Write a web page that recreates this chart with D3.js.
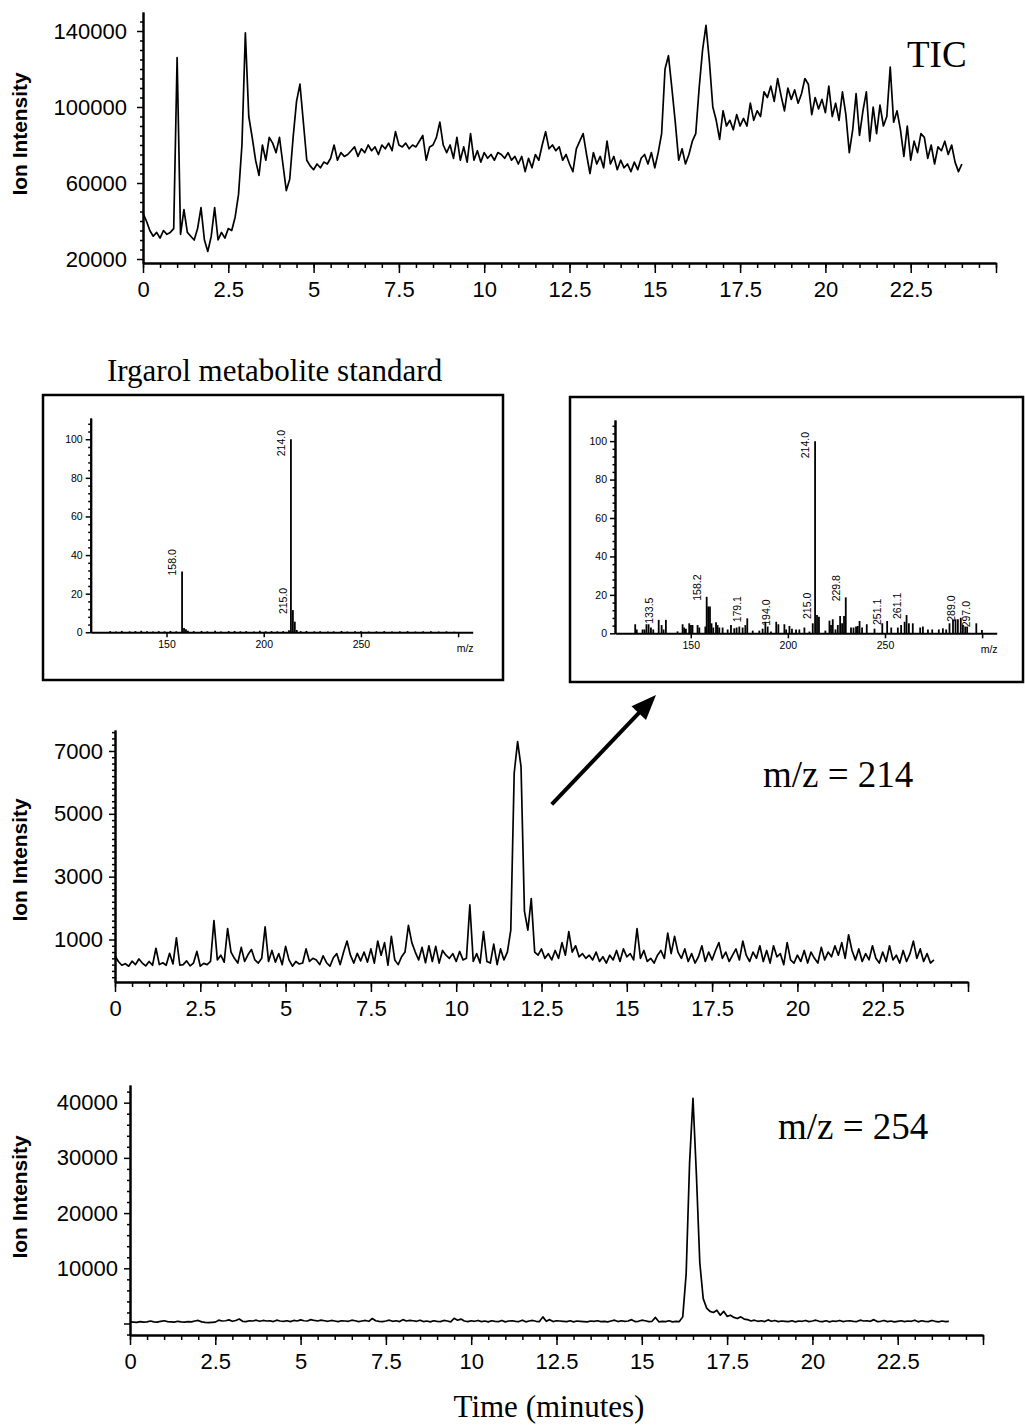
<!DOCTYPE html>
<html>
<head>
<meta charset="utf-8">
<script src="https://cdn.jsdelivr.net/npm/d3@7"></script>
<style>
body { margin: 0; background: #fff; }
svg { display: block; }
</style>
</head>
<body>
<svg id="fig" width="1025" height="1426"></svg>
<script>
// scans are 0.1 min apart, starting at t = 0
const timeStep = 0.1;
const timeTicks = [0, 2.5, 5, 7.5, 10, 12.5, 15, 17.5, 20, 22.5];

// TIC, ion counts
const ticValues = [
  44000, 40000, 35000, 32000, 34000, 31000, 35000, 33000, 34000, 36000,
  126000, 33000, 46000, 34000, 32000, 30000, 36000, 47000, 30000, 24000,
  32000, 47000, 30000, 34000, 31000, 36000, 35000, 42000, 54000, 80000,
  139000, 95000, 84000, 72000, 64000, 80000, 72000, 84000, 81000, 76000,
  84000, 70000, 56000, 62000, 84000, 103000, 112000, 92000, 72000, 69000,
  67000, 70000, 68000, 71000, 70000, 73000, 80000, 72000, 76000, 74000,
  75000, 77000, 79000, 74000, 78000, 76000, 80000, 77000, 79000, 75000,
  80000, 78000, 81000, 77000, 87000, 80000, 79000, 81000, 78000, 80000,
  79000, 82000, 85000, 72000, 79000, 80000, 84000, 92000, 80000, 76000,
  80000, 73000, 84000, 72000, 79000, 71000, 86000, 72000, 77000, 71000,
  76000, 73000, 75000, 72000, 76000, 75000, 73000, 76000, 72000, 74000,
  70000, 74000, 66000, 73000, 68000, 75000, 72000, 80000, 87000, 78000,
  80000, 77000, 79000, 72000, 75000, 70000, 66000, 78000, 82000, 86000,
  75000, 65000, 76000, 70000, 74000, 68000, 82000, 70000, 74000, 67000,
  72000, 68000, 70000, 66000, 71000, 67000, 73000, 75000, 70000, 76000,
  68000, 76000, 86000, 120000, 127000, 110000, 92000, 72000, 78000, 70000,
  75000, 82000, 86000, 110000, 130000, 143000, 124000, 100000, 93000, 83000,
  98000, 90000, 93000, 88000, 96000, 90000, 94000, 90000, 102000, 93000,
  98000, 95000, 108000, 105000, 111000, 103000, 115000, 106000, 98000, 110000,
  104000, 109000, 102000, 107000, 115000, 112000, 96000, 105000, 99000, 104000,
  97000, 111000, 95000, 102000, 93000, 108000, 96000, 76000, 88000, 107000,
  85000, 98000, 108000, 82000, 100000, 86000, 101000, 90000, 95000, 121000,
  92000, 98000, 88000, 74000, 90000, 72000, 82000, 76000, 86000, 84000,
  73000, 80000, 70000, 79000, 77000, 82000, 75000, 80000, 71000, 66000,
  70000
];

// extracted ion m/z 214
const mz214Values = [
  480, 300, 180, 230, 150, 310, 200, 380, 250, 160,
  300, 180, 720, 200, 260, 180, 560, 220, 1050, 180,
  200, 320, 160, 250, 620, 150, 240, 200, 300, 1600,
  350, 500, 280, 1350, 600, 400, 250, 750, 300, 520,
  680, 350, 250, 400, 1400, 300, 650, 280, 550, 200,
  780, 350, 150, 300, 220, 250, 700, 300, 400, 350,
  200, 480, 260, 150, 420, 550, 200, 600, 950, 500,
  250, 560, 320, 600, 280, 700, 250, 950, 500, 900,
  180, 1100, 350, 200, 450, 600, 1450, 900, 600, 350,
  750, 260, 800, 300, 780, 250, 650, 500, 400, 550,
  300, 620, 350, 400, 2100, 300, 550, 250, 1250, 300,
  250, 850, 200, 700, 350, 600, 1300, 6300, 7300, 6500,
  1900, 1300, 2300, 600, 500, 700, 400, 550, 350, 650,
  400, 900, 500, 1250, 600, 800, 450, 550, 400, 500,
  350, 600, 300, 450, 250, 500, 350, 650, 300, 700,
  450, 550, 350, 1350, 400, 650, 300, 400, 250, 500,
  650, 400, 1200, 550, 1100, 600, 400, 700, 300, 550,
  250, 450, 800, 300, 600, 350, 650, 900, 400, 600,
  300, 500, 700, 350, 950, 500, 300, 600, 400, 800,
  300, 650, 250, 800, 450, 550, 200, 900, 350, 250,
  500, 300, 650, 250, 600, 400, 250, 750, 350, 600,
  450, 800, 500, 900, 400, 1150, 650, 350, 700, 300,
  550, 350, 800, 400, 250, 600, 300, 800, 350, 500,
  250, 650, 300, 550, 950, 400, 700, 300, 550, 250,
  350
];

// extracted ion m/z 254
const mz254Values = [
  300, 250, 200, 350, 250, 300, 450, 300, 250, 400, 500, 350, 300, 250, 400, 300, 250, 350, 300, 450, 550, 300, 200, 150, 200, 250,
  600, 450, 500, 650, 400, 550, 800, 400, 350, 500, 450, 600, 400, 550, 450, 500, 350, 600, 450, 400, 500, 350, 550, 450, 650,
  500, 450, 700, 550, 450, 600, 500, 400, 550, 450, 350, 500, 450, 400, 600, 500, 350, 450, 550, 400, 900, 500, 400, 350, 450,
  600, 400, 500, 350, 700, 450, 550, 500, 400, 600, 350, 450, 300, 500, 400, 350, 550, 450, 300, 950, 600, 800, 450, 350, 500,
  400, 550, 350, 450, 300, 500, 400, 350, 550, 300, 450, 500, 400, 350, 600, 300, 450, 550, 400, 350, 1200, 400, 700, 350, 500,
  450, 400, 350, 500, 300, 450, 400, 350, 300, 450, 400, 500, 350, 400, 300, 450, 600, 350, 500, 400, 450, 700, 350, 400, 600,
  500, 350, 400, 1100, 300, 400, 350, 500, 300, 400,
  350, 1200, 9000, 29000, 40800, 27000, 11000, 4500, 2800, 2200,
  2000, 2400, 1500, 2200, 1300, 1500, 1100, 900, 1200, 800,
  700, 450, 600, 400, 500, 350, 650, 400, 550, 350, 450, 400, 350, 500, 300, 450, 400, 550, 350, 450,
  600, 400, 350, 500, 300, 450, 400, 550, 350, 450, 500, 400, 350, 600, 450, 500, 400, 700, 350, 400, 550, 350, 450, 300, 400,
  500, 350, 450, 400, 600, 300, 500, 400, 350, 550, 400, 300, 450, 350, 400
];

const ticYTicks = [20000, 60000, 100000, 140000];
const mz214YTicks = [1000, 3000, 5000, 7000];
const mz254YTicks = [0, 10000, 20000, 30000, 40000];

// mass spectra (relative abundance %)
const mzTicks = [150, 200, 250, 300];
const pctTicks = [0, 20, 40, 60, 80, 100];

const stdMz = [121, 124, 127, 131, 134, 137, 140, 143, 146, 149, 152, 155, 158, 159, 160, 161, 164, 168, 171, 175,
  178, 182, 185, 188, 191, 195, 198, 201, 204, 207, 210, 213, 214, 215, 216, 217, 219, 222, 226, 229,
  233, 236, 240, 243, 247, 250, 254, 258, 262, 266, 270, 274, 278, 282, 286, 290, 294, 298];
const stdInt = [0.6, 0.4, 0.7, 0.5, 0.6, 0.8, 0.5, 0.4, 0.6, 0.5, 0.7, 0.5, 31.5, 2.2, 1.6, 0.8, 0.6, 0.7, 0.5, 0.8,
  0.4, 0.6, 0.7, 0.5, 0.6, 0.4, 0.8, 0.5, 0.6, 0.5, 0.6, 1.0, 100, 11.5, 5.5, 1.2, 0.6, 0.7, 0.5, 0.6,
  0.4, 0.5, 0.7, 0.4, 0.5, 0.6, 0.4, 0.5, 0.6, 0.4, 0.5, 0.6, 0.4, 0.5, 0.6, 0.4, 0.5, 0.3];
const stdLabels = ["158.0", "214.0", "215.0"];

const sampleMz = [121.4, 122.2, 125.2, 126.2, 127.2, 128.3, 129.5, 130.7, 133.5, 135.0, 136.0, 137.2, 143.2, 145.8, 146.6,
  147.5, 149.2, 150.1, 150.9, 153.5, 154.4, 157.5, 158.2, 159.0, 159.9, 160.7, 161.6, 163.0, 163.8, 164.7,
  166.4, 169.0, 170.7, 172.4, 173.6, 175.0, 176.7, 178.1, 179.1, 181.9, 185.3, 187.0, 188.4, 189.6, 191.3,
  194.0, 195.1, 198.2, 199.1, 200.8, 202.1, 204.2, 205.9, 208.5, 211.1, 212.8, 214.0, 215.0, 216.0, 219.3,
  221.4, 222.2, 223.1, 224.5, 225.7, 226.9, 227.9, 228.9, 229.8, 232.5, 233.8, 235.1, 236.0, 236.9, 238.2,
  240.6, 244.6, 248.6, 251.1, 253.2, 256.6, 258.3, 260.1, 261.1, 262.3, 264.3, 268.1, 269.5, 272.1, 274.3,
  277.7, 279.8, 281.5, 283.2, 285.0, 286.3, 287.5, 289.0, 290.1, 291.3, 292.3, 297.0, 299.9];
const sampleInt = [4.7, 2.0, 2.0, 2.0, 4.7, 4.7, 3.0, 2.0, 7.0, 4.3, 2.0, 7.0, 1.0, 4.7, 3.0,
  2.4, 5.2, 4.3, 4.3, 4.3, 3.0, 3.5, 19.0, 14.0, 14.0, 5.2, 3.0, 5.7, 4.3, 3.0,
  3.0, 2.0, 4.3, 2.6, 3.0, 3.5, 3.0, 4.3, 7.8, 1.4, 1.4, 2.4, 6.0, 3.5, 0.9,
  6.0, 4.7, 4.7, 2.0, 3.8, 2.4, 2.0, 2.0, 3.0, 0.9, 5.2, 100, 9.5, 8.6, 1.4,
  6.6, 4.3, 7.3, 2.0, 4.3, 9.0, 5.2, 9.0, 18.7, 3.0, 3.0, 3.5, 3.8, 6.4, 3.0,
  4.7, 2.4, 5.2, 6.4, 3.0, 3.0, 4.3, 6.0, 9.5, 5.2, 5.2, 3.0, 3.5, 2.0, 2.0,
  2.0, 2.6, 2.0, 5.2, 7.0, 7.3, 7.3, 8.1, 4.3, 3.5, 3.5, 5.2, 1.7];
const sampleLabels = ["133.5", "158.2", "179.1", "194.0", "214.0", "215.0", "229.8", "251.1", "261.1", "289.0", "297.0"];

const SANS = "'Liberation Sans', Arial, Helvetica, sans-serif";
const SERIF = "'Liberation Serif', 'Times New Roman', Times, serif";

let svg = d3.select("#fig");
svg.append("rect").attr("width", 1025).attr("height", 1426).attr("fill", "#fff");

let styleAxis = function(g, fontSize) {
  g.attr("font-family", SANS).attr("font-size", fontSize);
  g.selectAll("path.domain").attr("stroke", "#000").attr("stroke-width", 2);
  g.selectAll(".tick line").attr("stroke", "#000").attr("stroke-width", 1.5);
  g.selectAll(".tick text").attr("fill", "#000");
};

// ---- chromatograms ----
let panels = [
  { values: ticValues, yDomain: [17900, 150000], yTicks: ticYTicks, yMinor: 5000,
    left: 143, right: 996, top: 12, bottom: 263, yPad: 10, yLabelY: 134,
    label: "TIC", labelX: 907, labelY: 67 },
  { values: mz214Values, yDomain: [-353, 7668], yTicks: mz214YTicks, yMinor: 200,
    left: 115, right: 968, top: 730, bottom: 982, yPad: 6, yLabelY: 860,
    label: "m/z = 214", labelX: 763, labelY: 787 },
  { values: mz254Values, yDomain: [-2083, 43200], yTicks: mz254YTicks, yMinor: 2000,
    left: 130, right: 983, top: 1085, bottom: 1335, yPad: 6, yLabelY: 1197,
    label: "m/z = 254", labelX: 778, labelY: 1139 }
];

panels.forEach(p => {
  p.x = d3.scaleLinear().domain([0, 25]).range([p.left, p.right]);
  p.y = d3.scaleLinear().domain(p.yDomain).range([p.bottom, p.top]);
  let g = svg.append("g");

  let minorX = d3.range(0, 25.001, 0.5);
  let xMinor = g.append("g").attr("transform", "translate(0," + p.bottom + ")")
    .call(d3.axisBottom(p.x).tickValues(minorX).tickSize(5).tickSizeOuter(0).tickFormat(""));
  styleAxis(xMinor, 22);
  let xMajor = g.append("g").attr("transform", "translate(0," + p.bottom + ")")
    .call(d3.axisBottom(p.x).tickValues(timeTicks.concat([25])).tickSize(10).tickPadding(8)
      .tickSizeOuter(0).tickFormat(d => d === 25 ? "" : d));
  styleAxis(xMajor, 22);

  let minorY = d3.range(Math.ceil(p.yDomain[0] / p.yMinor) * p.yMinor, p.yDomain[1], p.yMinor)
    .filter(v => !p.yTicks.includes(v));
  let yMinor = g.append("g").attr("transform", "translate(" + p.left + ",0)")
    .call(d3.axisLeft(p.y).tickValues(minorY).tickSize(3).tickSizeOuter(0).tickFormat(""));
  styleAxis(yMinor, 22);
  let yMajor = g.append("g").attr("transform", "translate(" + p.left + ",0)")
    .call(d3.axisLeft(p.y).tickValues(p.yTicks).tickSize(6).tickPadding(p.yPad)
      .tickSizeOuter(0).tickFormat(d => d === 0 ? "" : d));
  styleAxis(yMajor, 22);

  let line = d3.line()
    .x((d, i) => p.x(i * timeStep))
    .y(d => p.y(d));
  g.append("path").datum(p.values)
    .attr("d", line)
    .attr("fill", "none")
    .attr("stroke", "#000")
    .attr("stroke-width", 1.7)
    .attr("stroke-linejoin", "round");

  g.append("text")
    .attr("transform", "translate(20," + p.yLabelY + ") rotate(-90)")
    .attr("dy", "0.35em")
    .attr("text-anchor", "middle")
    .attr("font-family", SANS)
    .attr("font-weight", "bold")
    .attr("font-size", 20)
    .attr("textLength", 123)
    .attr("lengthAdjust", "spacingAndGlyphs")
    .text("Ion Intensity");

  g.append("text")
    .attr("x", p.labelX).attr("y", p.labelY)
    .attr("font-family", SERIF).attr("font-size", 37)
    .text(p.label);
});

svg.append("text")
  .attr("x", 549).attr("y", 1417)
  .attr("text-anchor", "middle")
  .attr("font-family", SERIF).attr("font-size", 31)
  .text("Time (minutes)");

// ---- mass spectra insets ----
let insets = [
  { mz: stdMz, intensity: stdInt, labels: stdLabels, box: [43, 395, 460, 285],
    left: 90.7, right: 472.7, top: 418, bottom: 632.3 },
  { mz: sampleMz, intensity: sampleInt, labels: sampleLabels, box: [570, 397, 453, 285],
    left: 615, right: 996.7, top: 420, bottom: 633.3 }
];

svg.append("text")
  .attr("x", 107).attr("y", 381)
  .attr("font-family", SERIF).attr("font-size", 31)
  .text("Irgarol metabolite standard");

insets.forEach(s => {
  let g = svg.append("g");
  g.append("rect")
    .attr("x", s.box[0]).attr("y", s.box[1])
    .attr("width", s.box[2]).attr("height", s.box[3])
    .attr("fill", "none").attr("stroke", "#000").attr("stroke-width", 2.5);

  let x = d3.scaleLinear().domain([111, 307.5]).range([s.left, s.right]);
  let y = d3.scaleLinear().domain([0, 111]).range([s.bottom, s.top]);

  let yMinor = g.append("g").attr("transform", "translate(" + s.left + ",0)")
    .call(d3.axisLeft(y).tickValues(d3.range(0, 111, 4).filter(v => v % 20 !== 0))
      .tickSize(2.5).tickSizeOuter(0).tickFormat(""));
  styleAxis(yMinor, 10.5);
  let yMajor = g.append("g").attr("transform", "translate(" + s.left + ",0)")
    .call(d3.axisLeft(y).tickValues(pctTicks).tickSize(5).tickPadding(3).tickSizeOuter(0));
  styleAxis(yMajor, 10.5);
  let xAxis = g.append("g").attr("transform", "translate(0," + s.bottom + ")")
    .call(d3.axisBottom(x).tickValues(mzTicks).tickSize(5).tickPadding(3)
      .tickSizeOuter(0).tickFormat(d => d === 300 ? "" : d));
  styleAxis(xAxis, 10.5);

  g.append("text")
    .attr("x", s.right - 16).attr("y", s.bottom + 20)
    .attr("font-family", SANS).attr("font-size", 10.5)
    .text("m/z");

  g.selectAll("line.bar").data(s.mz).enter().append("line")
    .attr("class", "bar")
    .attr("x1", d => x(d)).attr("x2", d => x(d))
    .attr("y1", y(0))
    .attr("y2", (d, i) => y(s.intensity[i]))
    .attr("stroke", "#000")
    .attr("stroke-width", 1.8);

  s.labels.forEach(lab => {
    let v = parseFloat(lab);
    let idx = d3.minIndex(s.mz, m => Math.abs(m - v));
    let t = g.append("text")
      .attr("font-family", SANS).attr("font-size", 10.5)
      .text(lab);
    let len = t.node().getComputedTextLength();
    let yStart = Math.max(y(s.intensity[idx]) + 4, s.top + 12 + len);
    t.attr("transform", "translate(" + (x(v) - 6) + "," + yStart + ") rotate(-90)");
  });
});

// ---- arrow from the m/z 214 peak to the sample spectrum ----
let p214 = panels[1];
let tail = [p214.x(12.8), p214.y(5300)];
let tip = [insets[1].box[0] + 86, insets[1].box[1] + insets[1].box[3] + 13];
let dx = tip[0] - tail[0], dy = tip[1] - tail[1];
let len = Math.sqrt(dx * dx + dy * dy);
let ux = dx / len, uy = dy / len;
let headLen = 25, headHalf = 10;
let base = [tip[0] - ux * headLen, tip[1] - uy * headLen];
svg.append("line")
  .attr("x1", tail[0]).attr("y1", tail[1])
  .attr("x2", base[0] + ux * 2).attr("y2", base[1] + uy * 2)
  .attr("stroke", "#000").attr("stroke-width", 4);
svg.append("polygon")
  .attr("points", [
    tip,
    [base[0] - uy * headHalf, base[1] + ux * headHalf],
    [base[0] + uy * headHalf, base[1] - ux * headHalf]
  ].map(q => q.join(",")).join(" "))
  .attr("fill", "#000");
</script>
</body>
</html>
